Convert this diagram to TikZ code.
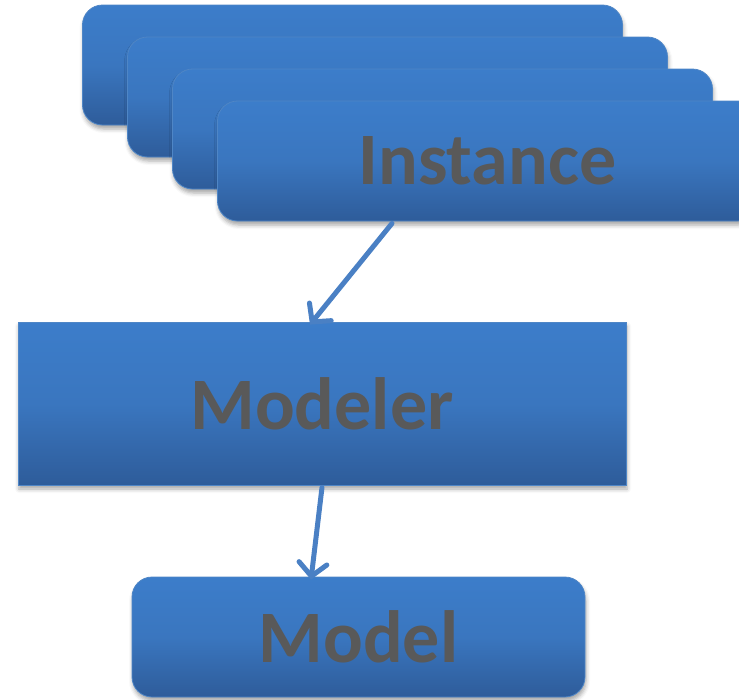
\documentclass[tikz,border=0pt]{standalone}
\usepackage{fontspec}
\setmainfont{Carlito}
\usetikzlibrary{arrows.meta,shadows.blur}
\definecolor{boxtop}{HTML}{3C7DCA}
\definecolor{boxmid}{HTML}{3A76BF}
\definecolor{boxbot}{HTML}{2E5C9A}
\definecolor{boxline}{HTML}{4F86C6}
\definecolor{labelgrey}{HTML}{595959}
\definecolor{arrowblue}{HTML}{4A80C4}
\tikzset{
  x=1pt, y=-1pt,
  blockbase/.style={draw=boxline, line width=0.8pt,
    top color=boxtop, bottom color=boxbot, middle color=boxmid,
    inner sep=0pt, text=labelgrey,
    font=\fontsize{74}{74}\selectfont\bfseries,
    blur shadow={shadow xshift=1pt, shadow yshift=-4pt, shadow blur radius=4pt, shadow opacity=35}},
  roundblock/.style={blockbase, rounded corners=20pt},
  squareblock/.style={blockbase},
  flow/.style={draw=arrowblue, line width=5pt, line cap=round,
    -{Straight Barb[length=13pt, width=28pt, line cap=round, line width=5pt]}}
}
\begin{document}
\begin{tikzpicture}
\useasboundingbox (0,0) rectangle (739,699);
\clip (0,0) rectangle (739,699);
\node[roundblock, minimum width=540pt, minimum height=120pt] (inst1) at (352.5,65) {};
\node[roundblock, minimum width=540pt, minimum height=120pt] (inst2) at (397.5,97) {};
\node[roundblock, minimum width=540pt, minimum height=120pt] (inst3) at (442.5,129) {};
\node[roundblock, minimum width=540pt, minimum height=120pt] (inst4) at (487.5,161) {Instance};
\node[squareblock, minimum width=608pt, minimum height=163pt] (modeler) at (322,403.5) {Modeler};
\node[roundblock, minimum width=453pt, minimum height=120pt] (model) at (358.5,637) {Model};
\draw[flow] ([xshift=-95.5pt,yshift=-2pt]inst4.south) -- ([xshift=-12pt,yshift=-3pt]modeler.north);
\draw[flow] ([yshift=-2pt]modeler.south) -- ([xshift=-47.5pt,yshift=-3pt]model.north);
\end{tikzpicture}
\end{document}
